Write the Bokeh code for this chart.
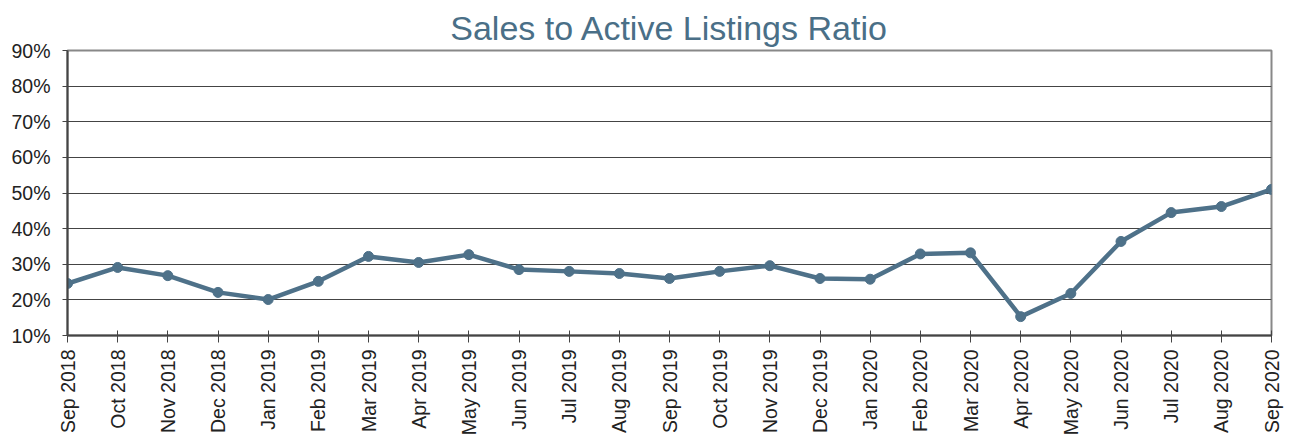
import math
from bokeh.plotting import figure
from bokeh.models import FixedTicker, NumeralTickFormatter, Range1d
from bokeh.embed import file_html
from bokeh.resources import INLINE

months = ["Sep 2018", "Oct 2018", "Nov 2018", "Dec 2018", "Jan 2019", "Feb 2019",
          "Mar 2019", "Apr 2019", "May 2019", "Jun 2019", "Jul 2019", "Aug 2019",
          "Sep 2019", "Oct 2019", "Nov 2019", "Dec 2019", "Jan 2020", "Feb 2020",
          "Mar 2020", "Apr 2020", "May 2020", "Jun 2020", "Jul 2020", "Aug 2020",
          "Sep 2020"]
ratio = [0.246, 0.291, 0.268, 0.221, 0.201, 0.252, 0.322, 0.305, 0.327, 0.285,
         0.280, 0.274, 0.260, 0.280, 0.296, 0.260, 0.258, 0.329, 0.332, 0.153,
         0.218, 0.364, 0.445, 0.462, 0.510]
y_ticks = [0.1, 0.2, 0.3, 0.4, 0.5, 0.6, 0.7, 0.8, 0.9]

x = list(range(len(months)))

p = figure(width=1284, height=440, output_backend="svg", toolbar_location=None,
           x_range=Range1d(0, len(months) - 1), y_range=Range1d(0.1, 0.9),
           min_border_left=67, min_border_right=13, min_border_top=50,
           min_border_bottom=105)

p.title.text = "Sales to Active Listings Ratio"
p.title.align = "center"
p.title.text_font = "Liberation Sans"
p.title.text_font_size = "34px"
p.title.text_font_style = "normal"
p.title.text_color = "#4a6f87"
p.title.standoff = 8

p.line(x, ratio, line_color="#4e7189", line_width=4.5)
p.scatter(x, ratio, size=10, fill_color="#4e7189", line_color="#4e7189")

p.xaxis.ticker = FixedTicker(ticks=x)
p.xaxis.major_label_overrides = {i: m for i, m in enumerate(months)}
p.xaxis.major_label_orientation = math.pi / 2
p.yaxis.ticker = FixedTicker(ticks=y_ticks)
p.yaxis.formatter = NumeralTickFormatter(format="0%")

for ax in (p.xaxis[0], p.yaxis[0]):
    ax.major_label_text_font = "Liberation Sans"
    ax.major_label_text_font_size = "19.5px"
    ax.major_label_text_color = "#222222"
    ax.axis_line_color = "#444444"
    ax.axis_line_width = 2
    ax.major_tick_line_color = "#444444"
    ax.major_tick_line_width = 1
    ax.minor_tick_line_color = None

p.xaxis.major_tick_out = 7
p.xaxis.major_tick_in = 5
p.xaxis.major_label_standoff = 7
p.yaxis.major_tick_out = 5
p.yaxis.major_tick_in = 0
p.yaxis.major_label_standoff = 12

p.xgrid.grid_line_color = None
p.ygrid.grid_line_color = "#444444"
p.ygrid.grid_line_width = 1
p.outline_line_color = "#888888"
p.outline_line_width = 2

open("out.html", "w").write(file_html(p, INLINE))
